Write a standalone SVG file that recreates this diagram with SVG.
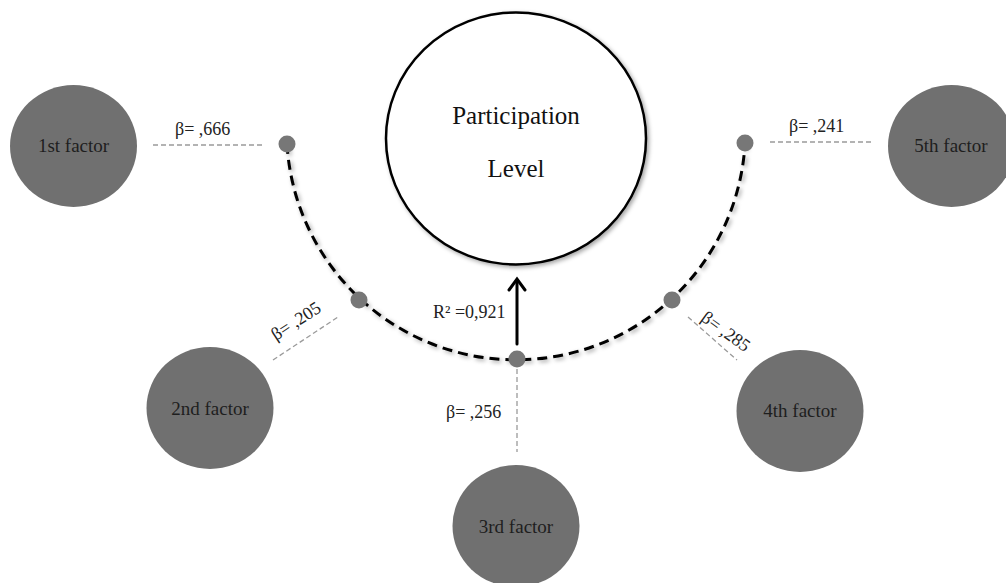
<svg xmlns="http://www.w3.org/2000/svg" width="1006" height="583" viewBox="0 0 1006 583">
<style>
.factor{fill:#707070}
.ftxt{font-family:"Liberation Serif",serif;font-size:19px;fill:#1e1e1e;text-anchor:middle}
.beta{font-family:"Liberation Serif",serif;font-size:18px;fill:#222}
.lead{stroke:#9a9a9a;stroke-width:1.3;stroke-dasharray:5 3;fill:none}
.dot{fill:#777}
</style>
<defs>
<filter id="sh" x="-20%" y="-20%" width="140%" height="140%">
<feDropShadow dx="2" dy="2" stdDeviation="2" flood-color="#000" flood-opacity="0.35"/>
</filter>
</defs>
<rect width="1006" height="583" fill="#fff"/>
<g id="connectors">
<path d="M287,144 A229.4,229.4 0 0 0 745,144" fill="none" stroke="#000" stroke-width="3" stroke-dasharray="10 6" filter="url(#sh)"/>
<line class="lead" x1="153" y1="145" x2="262" y2="145"/>
<line class="lead" x1="770" y1="142" x2="872" y2="142"/>
<line class="lead" x1="273" y1="360" x2="338" y2="317"/>
<line class="lead" x1="688" y1="317" x2="737" y2="360"/>
<line class="lead" x1="517" y1="369" x2="517" y2="452"/>
<g stroke="#000" stroke-width="3" fill="none" stroke-linecap="round">
<line x1="517" y1="344" x2="517" y2="280"/>
<polyline points="509,290 517,279 525,290"/>
</g>
<text class="beta" x="433" y="318">R² =0,921</text>
</g>
<g id="participation">
<ellipse cx="516" cy="138.5" rx="130" ry="126" fill="#fff" stroke="#000" stroke-width="2.5" filter="url(#sh)"/>
<text x="516" y="124" font-family="Liberation Serif, serif" font-size="25" fill="#111" text-anchor="middle">Participation</text>
<text x="516" y="177" font-family="Liberation Serif, serif" font-size="25" fill="#111" text-anchor="middle">Level</text>
</g>
<g id="dots">
<circle class="dot" cx="287" cy="144" r="8.5"/>
<circle class="dot" cx="745" cy="143" r="8.5"/>
<circle class="dot" cx="359" cy="300" r="8.5"/>
<circle class="dot" cx="672" cy="300" r="8.5"/>
<circle class="dot" cx="517" cy="359" r="8.5"/>
</g>
<g id="factor1">
<ellipse class="factor" cx="73.5" cy="146" rx="63.5" ry="61"/>
<text class="ftxt" x="73.5" y="152">1st factor</text>
<text class="beta" x="175" y="135">β= ,666</text>
</g>
<g id="factor2">
<ellipse class="factor" cx="210" cy="408" rx="63.5" ry="61"/>
<text class="ftxt" x="210" y="415">2nd factor</text>
<text class="beta" transform="translate(276,341) rotate(-33)">β= ,205</text>
</g>
<g id="factor3">
<ellipse class="factor" cx="516" cy="526" rx="63.5" ry="61"/>
<text class="ftxt" x="516" y="533">3rd factor</text>
<text class="beta" x="446" y="418">β= ,256</text>
</g>
<g id="factor4">
<ellipse class="factor" cx="800" cy="411" rx="63.5" ry="61"/>
<text class="ftxt" x="800" y="417">4th factor</text>
<text class="beta" transform="translate(700,320) rotate(36)">β= ,285</text>
</g>
<g id="factor5">
<ellipse class="factor" cx="951.5" cy="146" rx="63.5" ry="61"/>
<text class="ftxt" x="951" y="152">5th factor</text>
<text class="beta" x="789" y="132">β= ,241</text>
</g>
</svg>
